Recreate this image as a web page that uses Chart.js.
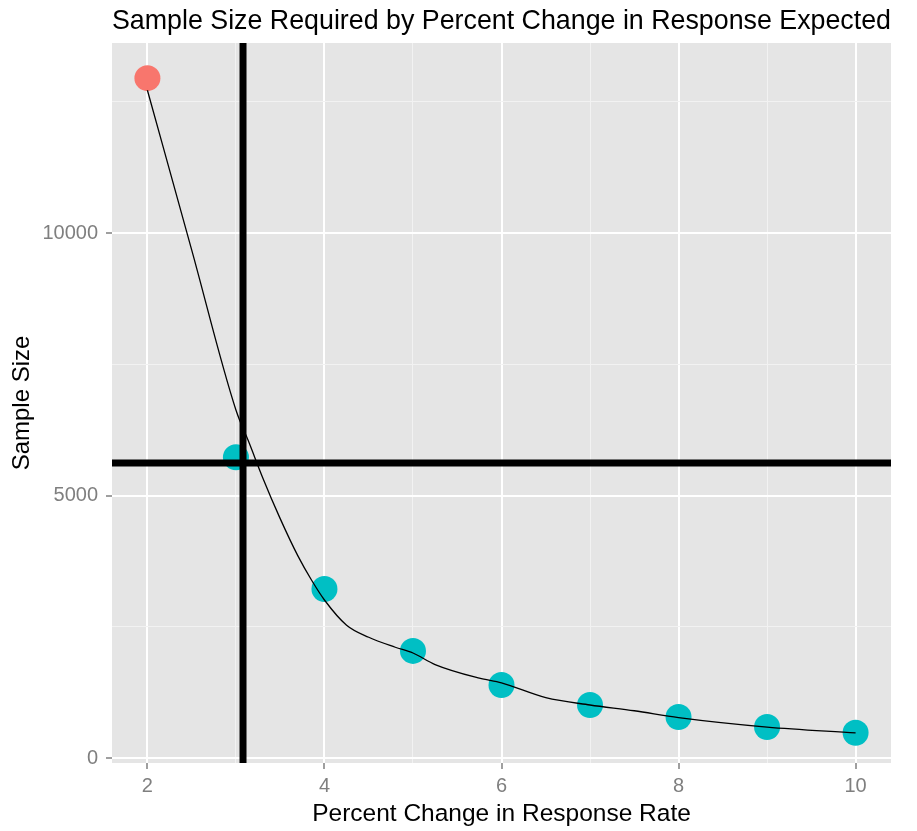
<!DOCTYPE html>
<html>
<head>
<meta charset="utf-8">
<script src="https://cdn.jsdelivr.net/npm/chart.js@4"></script>
<style>
    body { margin: 0; background: #fff; }
    #wrap { width: 917px; height: 831px; }
</style>
</head>
<body>
<div id="wrap"><canvas id="chart"></canvas></div>
<script>
// percent change vs sample size (points)
const pctChange = [2, 3, 4, 5, 6, 7, 8, 9, 10];
const sampleSize = [12950, 5730, 3220, 2040, 1390, 1010, 780, 590, 480];
const pointColors = ['#F8766D', '#00BFC4', '#00BFC4', '#00BFC4', '#00BFC4', '#00BFC4', '#00BFC4', '#00BFC4', '#00BFC4'];

// fitted curve
const curveX = [2, 2.5, 3, 3.15, 3.3, 3.5, 3.7, 3.85, 4, 4.25, 4.5, 4.8, 5, 5.25, 5.75, 6, 6.5, 7, 7.5, 8, 9, 10];
const curveY = [12720, 9680, 6630, 6000, 5350, 4560, 3850, 3400, 3010, 2530, 2300, 2110, 2000, 1780, 1520, 1430, 1150, 1010, 900, 770, 590, 480];

// reference lines
const refX = 3.08;
const refY = 5620;

// axes
const xRange = [1.6, 10.4];
const yRange = [-95, 13620];
const xTicks = [2, 3, 4, 5, 6, 7, 8, 9, 10];
const xMajor = [2, 4, 6, 8, 10];
const yTicks = [0, 2500, 5000, 7500, 10000, 12500];
const yMajor = [0, 5000, 10000];

const FONT = "'Liberation Sans', Arial, sans-serif";

const panelBg = {
    id: 'panelBg',
    beforeDraw(chart) {
        const { ctx, chartArea: a } = chart;
        ctx.save();
        ctx.fillStyle = '#E5E5E5';
        ctx.fillRect(a.left, a.top, a.right - a.left, a.bottom - a.top);
        ctx.restore();
    }
};

const gridColor = (majors) => (c) => majors.includes(c.tick.value) ? '#FFFFFF' : '#F2F2F2';
const gridWidth = (majors) => (c) => majors.includes(c.tick.value) ? 2 : 1;
const tickColor = (majors) => (c) => majors.includes(c.tick.value) ? '#7F7F7F' : 'rgba(0,0,0,0)';

new Chart(document.getElementById('chart'), {
    type: 'scatter',
    data: {
        datasets: [
            {
                data: pctChange.map((x, i) => ({ x, y: sampleSize[i] })),
                pointBackgroundColor: pointColors,
                pointBorderWidth: 0,
                pointRadius: 13,
                showLine: false,
                order: 4
            },
            {
                data: curveX.map((x, i) => ({ x, y: curveY[i] })),
                showLine: true,
                borderColor: '#000',
                borderWidth: 1.3,
                pointRadius: 0,
                cubicInterpolationMode: 'monotone',
                order: 3
            },
            {
                data: [{ x: xRange[0], y: refY }, { x: xRange[1], y: refY }],
                showLine: true,
                borderColor: '#000',
                borderWidth: 7,
                pointRadius: 0,
                order: 2
            },
            {
                data: [{ x: refX, y: yRange[0] }, { x: refX, y: yRange[1] }],
                showLine: true,
                borderColor: '#000',
                borderWidth: 7,
                pointRadius: 0,
                order: 1
            }
        ]
    },
    options: {
        responsive: true,
        maintainAspectRatio: false,
        devicePixelRatio: 1,
        animation: false,
        layout: { padding: { left: 0, right: 26, top: 0, bottom: 0 } },
        plugins: {
            legend: { display: false },
            tooltip: { enabled: false },
            title: {
                display: true,
                fullSize: false,
                text: 'Sample Size Required by Percent Change in Response Expected',
                color: '#000',
                font: { family: FONT, size: 27.5, weight: 'normal' },
                padding: { top: 5, bottom: 5 }
            }
        },
        scales: {
            x: {
                type: 'linear',
                min: xRange[0],
                max: xRange[1],
                afterBuildTicks: (s) => { s.ticks = xTicks.map(v => ({ value: v })); },
                afterFit: (s) => { s.height = 68; },
                border: { display: false },
                grid: {
                    color: gridColor(xMajor),
                    lineWidth: gridWidth(xMajor),
                    tickColor: tickColor(xMajor),
                    tickLength: 6,
                    tickWidth: 1.5
                },
                ticks: {
                    color: '#7F7F7F',
                    font: { family: FONT, size: 20 },
                    padding: 5,
                    maxRotation: 0,
                    callback: (v) => xMajor.includes(v) ? String(v) : ''
                },
                title: {
                    display: true,
                    text: 'Percent Change in Response Rate',
                    color: '#000',
                    font: { family: FONT, size: 24.5 },
                    padding: { top: 0, bottom: 2 }
                }
            },
            y: {
                type: 'linear',
                min: yRange[0],
                max: yRange[1],
                afterBuildTicks: (s) => { s.ticks = yTicks.map(v => ({ value: v })); },
                afterFit: (s) => { s.width = 112; },
                border: { display: false },
                grid: {
                    color: gridColor(yMajor),
                    lineWidth: gridWidth(yMajor),
                    tickColor: tickColor(yMajor),
                    tickLength: 6,
                    tickWidth: 1.5
                },
                ticks: {
                    color: '#7F7F7F',
                    font: { family: FONT, size: 20 },
                    padding: 8,
                    callback: (v) => yMajor.includes(v) ? String(v) : ''
                },
                title: {
                    display: true,
                    text: 'Sample Size',
                    color: '#000',
                    font: { family: FONT, size: 24 },
                    padding: { top: 8, bottom: 0 }
                }
            }
        }
    },
    plugins: [panelBg]
});
</script>
</body>
</html>
